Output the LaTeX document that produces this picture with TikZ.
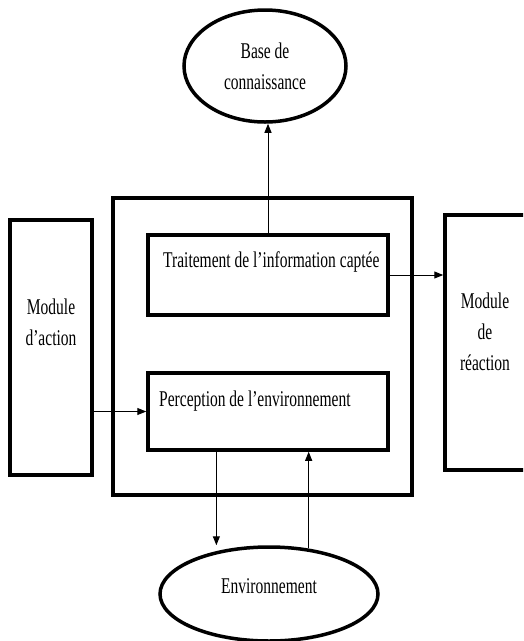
\documentclass[tikz,border=0pt]{standalone}
\usepackage{fontspec}
\setmainfont{Liberation Serif}[FakeStretch=0.69]
\usetikzlibrary{arrows.meta,shapes.geometric,calc}
\begin{document}
\begin{tikzpicture}[x=1pt,y=-1pt,
  box/.style={draw,line width=3.5pt,rectangle,inner sep=0pt},
  oval/.style={draw,line width=3.5pt,ellipse,inner sep=0pt},
  lbl/.style={font=\fontsize{22.5}{31}\selectfont,inner sep=0pt,align=center},
  arr/.style={line width=1pt,-{Triangle[length=9pt,width=7pt]}}]
\useasboundingbox (0,0) rectangle (523,641);
\clip (0,0) rectangle (523,641);
% boxes
\node[box,minimum width=299pt,minimum height=297pt] (outer) at (262.5,346.5) {};
\node[box,minimum width=82pt,minimum height=255pt] (act) at (51,347.5) {};
\node[box,minimum width=115pt,minimum height=255pt] (react) at (502.5,342.5) {};
\node[box,minimum width=240pt,minimum height=80pt] (trait) at (268,275) {};
\node[box,minimum width=240pt,minimum height=77pt] (percep) at (268,411.5) {};
\node[oval,lbl,minimum width=162pt,minimum height=112pt] (base) at (265,66) {Base de\\connaissance};
\node[oval,minimum width=218pt,minimum height=94pt] (env) at (269,594) {};
% texts
\node[lbl,anchor=base west] (ttrait) at (163,267) {Traitement de l’information captée};
\node[lbl,anchor=base west] (tperc) at (159,406) {Perception de l’environnement};
\node[lbl,anchor=base] (tact) at (51,345) {Module\\d’action};
\node[lbl,anchor=base] (treact) at (485,370) {Module\\de\\réaction};
\node[lbl,anchor=base] (tenv) at (269,593) {Environnement};
% connectors
\coordinate (dn) at ($(percep.south west)!0.288!(percep.south east)$);
\coordinate (up) at ($(percep.south west)!0.667!(percep.south east)$);
\draw[arr] (trait.north) -- (trait.north |- base.south);
\draw[arr] (trait.east) -- (trait.east -| react.west);
\draw[arr] (act.east |- percep.west) -- (percep.west);
\draw[arr] (dn) -- (dn |- env.north);
\draw[arr] ($(up |- env.north)+(0,3)$) -- (up);
\end{tikzpicture}
\end{document}
